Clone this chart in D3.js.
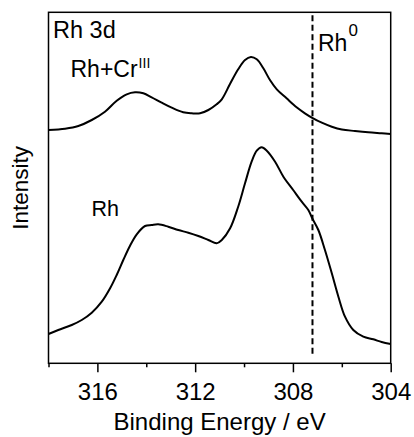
<!DOCTYPE html>
<html>
<head>
<meta charset="utf-8">
<script src="https://cdn.jsdelivr.net/npm/d3@7"></script>
<style>
  html, body { margin: 0; padding: 0; background: #fff; }
  svg { display: block; font-family: "Liberation Sans", Arial, sans-serif; }
</style>
</head>
<body>
<svg id="chart" width="414" height="437"></svg>
<script>
// ---- Data ----
const energyTop = [318.00, 317.32, 316.78, 316.23, 315.69, 315.21, 314.80, 314.46, 314.12, 313.78,
  313.37, 312.96, 312.49, 312.14, 311.80, 311.46, 311.12, 310.91, 310.57, 310.24,
  309.96, 309.72, 309.48, 309.21, 308.94, 308.66, 308.26, 307.85, 307.51, 307.21,
  306.82, 306.41, 306.00, 305.46, 304.92, 304.37, 304.00];
const intensityTop = [233.3, 234.6, 237.3, 243.3, 251.6, 262.6, 269.0, 271.0, 270.0, 266.0,
  260.6, 255.6, 251.0, 250.0, 250.0, 253.3, 259.0, 264.0, 279.5, 294.0,
  303.3, 306.3, 304.0, 295.0, 283.3, 274.0, 265.0, 256.0, 250.0, 245.5,
  240.6, 236.6, 233.8, 232.3, 231.0, 230.0, 229.3];

const energyBottom = [318.00, 317.60, 317.05, 316.64, 316.23, 315.82, 315.48, 315.21, 314.94, 314.67,
  314.39, 314.05, 313.78, 313.51, 313.10, 312.69, 312.28, 311.87, 311.46, 311.12,
  310.91, 310.57, 310.24, 309.96, 309.69, 309.48, 309.28, 309.07, 308.73, 308.39,
  307.99, 307.64, 307.37, 307.21, 306.96, 306.69, 306.41, 306.14, 305.87, 305.53,
  305.12, 304.71, 304.37, 304.00];
const intensityBottom = [29.3, 33.3, 38.3, 43.3, 50.6, 61.6, 75.0, 88.3, 103.3, 117.3,
  129.0, 137.3, 138.3, 139.0, 136.6, 133.3, 130.6, 127.3, 123.3, 120.0,
  123.3, 135.0, 156.6, 180.0, 201.6, 212.6, 216.0, 212.6, 201.6, 186.6,
  173.3, 161.6, 153.3, 145.0, 133.3, 113.3, 90.0, 66.6, 46.6, 33.3,
  26.6, 24.0, 21.3, 19.3];

const energyDomain = [318, 304];
const intensityDomain = [0, 351];
const majorTicks = [316, 312, 308, 304];
const minorTicks = [318, 314, 310, 306];
const rh0Energy = 307.2;
const xTitle = "Binding Energy / eV";
const yTitle = "Intensity";

// ---- Layout ----
const svg = d3.select("#chart");
const mLeft = 48.5, mRight = 390.7, mTop = 12.3, mBottom = 363.3;

const x = d3.scaleLinear().domain(energyDomain).range([mLeft, mRight]);
const y = d3.scaleLinear().domain(intensityDomain).range([mBottom, mTop]);

// curves
const line = d3.line()
  .x(d => x(d[0]))
  .y(d => y(d[1]))
  .curve(d3.curveCatmullRom.alpha(0.5));

const topData = energyTop.map((e, i) => [e, intensityTop[i]]);
const botData = energyBottom.map((e, i) => [e, intensityBottom[i]]);

svg.append("path").datum(topData)
  .attr("d", line).attr("fill", "none").attr("stroke", "#000").attr("stroke-width", 2);
svg.append("path").datum(botData)
  .attr("d", line).attr("fill", "none").attr("stroke", "#000").attr("stroke-width", 2);

// dashed reference line
svg.append("line")
  .attr("x1", x(rh0Energy)).attr("x2", x(rh0Energy))
  .attr("y1", mTop + 3).attr("y2", 355)
  .attr("stroke", "#000").attr("stroke-width", 2)
  .attr("stroke-dasharray", "6,3.5");

// frame
svg.append("rect")
  .attr("x", mLeft).attr("y", mTop)
  .attr("width", mRight - mLeft).attr("height", mBottom - mTop)
  .attr("fill", "none").attr("stroke", "#000").attr("stroke-width", 1.5);

// x axis (major with labels, minor without)
const xAxisMajor = d3.axisBottom(x).tickValues(majorTicks).tickSize(9).tickPadding(11)
  .tickFormat(d3.format("d"));
const xAxisMinor = d3.axisBottom(x).tickValues(minorTicks).tickSize(4).tickFormat("");

const gMaj = svg.append("g").attr("transform", `translate(0,${mBottom})`).call(xAxisMajor);
const gMin = svg.append("g").attr("transform", `translate(0,${mBottom})`).call(xAxisMinor);
[gMaj, gMin].forEach(g => {
  g.select(".domain").remove();
  g.selectAll(".tick line").attr("stroke", "#000").attr("stroke-width", 1.5);
});
gMaj.selectAll(".tick text")
  .attr("fill", "#000")
  .attr("dy", "0.7em")
  .style("font-size", "24px")
  .style("font-family", "'Liberation Sans', Arial, sans-serif");

// axis titles
svg.append("text")
  .attr("x", (mLeft + mRight) / 2).attr("y", 430)
  .attr("text-anchor", "middle")
  .style("font-size", "24px")
  .text(xTitle);

svg.append("text")
  .attr("transform", `translate(28,${(mTop + mBottom) / 2}) rotate(-90)`)
  .attr("text-anchor", "middle")
  .style("font-size", "22.5px")
  .text(yTitle);

// annotations
svg.append("text").attr("x", 53).attr("y", 38)
  .style("font-size", "23.5px").text("Rh 3d");

const t2 = svg.append("text").attr("x", 70.5).attr("y", 77.3).style("font-size", "23px");
t2.append("tspan").text("Rh+Cr");
t2.append("tspan").attr("dy", -9).attr("dx", 1).style("font-size", "14px").text("III");

const t3 = svg.append("text").attr("x", 318).attr("y", 50.7).style("font-size", "23px");
t3.append("tspan").text("Rh");
t3.append("tspan").attr("dy", -15).attr("dx", 1).style("font-size", "17px").text("0");

svg.append("text").attr("x", 91.5).attr("y", 216)
  .style("font-size", "21.5px").text("Rh");
</script>
</body>
</html>
